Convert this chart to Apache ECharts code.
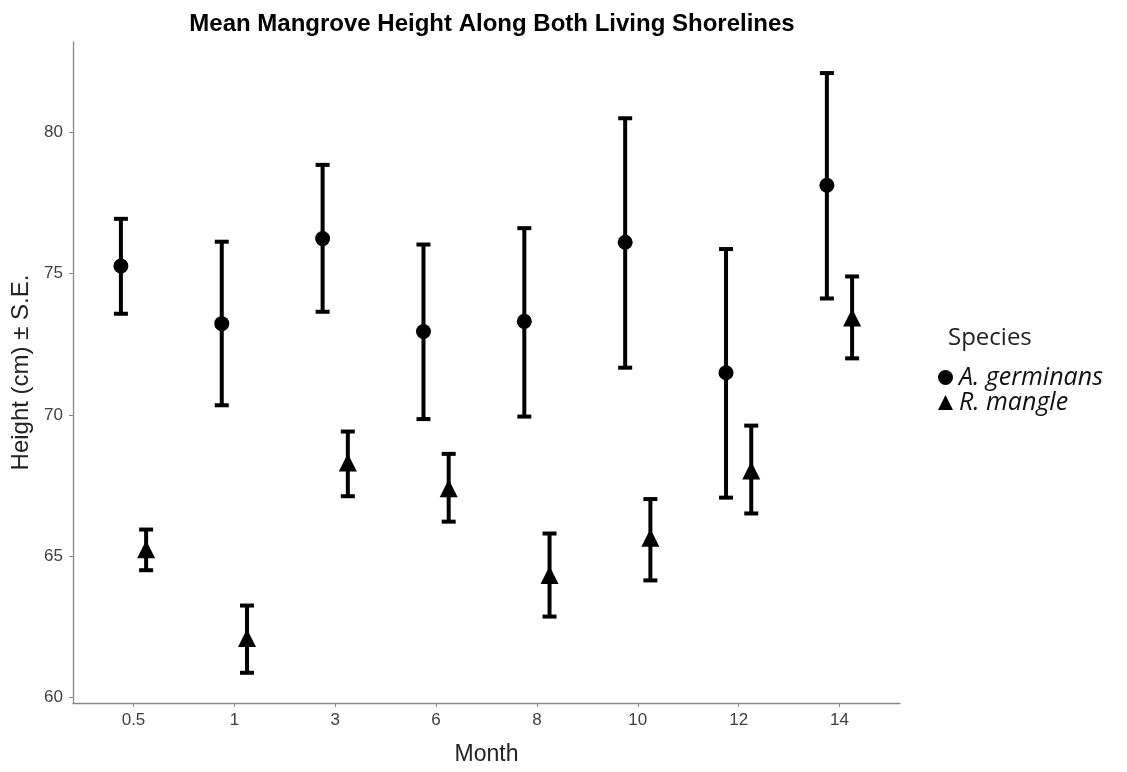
<!DOCTYPE html>
<html>
<head>
<meta charset="utf-8">
<script src="https://cdn.jsdelivr.net/npm/echarts@6/dist/echarts.min.js"></script>
<style>html,body{margin:0;padding:0;background:#fff}#c{width:1127px;height:772px}</style>
</head>
<body>
<div id="c"></div>
<script>
const months = ['0.5', '1', '3', '6', '8', '10', '12', '14'];
const aMean = [75.27, 73.23, 76.24, 72.95, 73.31, 76.11, 71.49, 78.13];
const aLow  = [73.58, 70.34, 73.65, 69.85, 69.94, 71.67, 67.07, 74.12];
const aHigh = [76.94, 76.13, 78.85, 76.03, 76.61, 80.50, 75.87, 82.10];
const rMean = [65.24, 62.10, 68.31, 67.40, 64.33, 65.65, 68.03, 73.45];
const rLow  = [64.50, 60.87, 67.12, 66.22, 62.86, 64.14, 66.51, 72.00];
const rHigh = [65.94, 63.25, 69.41, 68.62, 65.80, 67.02, 69.62, 74.90];
const yTicks = [60, 65, 70, 75, 80];
const dodge = 0.125;

const idx = months.map((m, i) => i);
const aPts = idx.map(i => [i - dodge, aMean[i]]);
const rPts = idx.map(i => [i + dodge, rMean[i]]);
const aBars = idx.map(i => [i - dodge, aLow[i], aHigh[i]]);
const rBars = idx.map(i => [i + dodge, rLow[i], rHigh[i]]);

function errRender(params, api) {
  const x = api.value(0);
  const lo = api.coord([x, api.value(1)]);
  const hi = api.coord([x, api.value(2)]);
  const hw = 7;
  const st = { stroke: '#000', lineWidth: 4 };
  return {
    type: 'group',
    children: [
      { type: 'line', shape: { x1: lo[0], y1: lo[1], x2: hi[0], y2: hi[1] }, style: st },
      { type: 'line', shape: { x1: lo[0] - hw, y1: lo[1], x2: lo[0] + hw, y2: lo[1] }, style: st },
      { type: 'line', shape: { x1: hi[0] - hw, y1: hi[1], x2: hi[0] + hw, y2: hi[1] }, style: st }
    ]
  };
}

const chart = echarts.init(document.getElementById('c'), null, { renderer: 'canvas' });
chart.setOption({
  animation: false,
  backgroundColor: '#fff',
  color: ['#000', '#000'],
  title: [
    { text: 'Mean Mangrove Height Along Both Living Shorelines', left: 487, top: 7, textAlign: 'center',
      textStyle: { fontFamily: 'Liberation Sans', fontWeight: 'bold', fontSize: 24, color: '#000' } },
    { text: 'Species', left: 943, top: 321,
      textStyle: { fontFamily: 'Open Sans', fontWeight: 'normal', fontSize: 24, color: '#222' } }
  ],
  legend: {
    orient: 'vertical', left: 933, top: 360, itemGap: 0, itemWidth: 15, itemHeight: 15,
    textStyle: { fontFamily: 'Open Sans', fontStyle: 'italic', fontSize: 25, lineHeight: 22, color: '#111', padding: [0, 0, 0, 1] },
    data: [
      { name: 'A. germinans', icon: 'circle', itemStyle: { color: '#000' } },
      { name: 'R. mangle', icon: 'triangle', itemStyle: { color: '#000' } }
    ]
  },
  grid: { left: 73, right: 227, top: 42, bottom: 69 },
  xAxis: {
    type: 'value', min: -0.6, max: 7.6,
    name: 'Month', nameLocation: 'middle', nameGap: 40,
    nameTextStyle: { fontFamily: 'Liberation Sans', fontSize: 23, color: '#222' },
    axisLine: { show: true, onZero: false, lineStyle: { color: '#888', width: 1.3 } },
    axisTick: { show: true, customValues: idx, length: 4, lineStyle: { color: '#888' } },
    axisLabel: { customValues: idx, formatter: v => months[Math.round(v)], fontFamily: 'Liberation Sans', fontSize: 17, color: '#404040', margin: 9 },
    splitLine: { show: false }
  },
  yAxis: {
    type: 'value', min: 59.8, max: 83.2,
    name: 'Height (cm) ± S.E.', nameLocation: 'middle', nameGap: 40, nameRotate: 90,
    nameTextStyle: { fontFamily: 'Liberation Sans', fontSize: 24, color: '#222' },
    axisLine: { show: true, onZero: false, lineStyle: { color: '#888', width: 1.3 } },
    axisTick: { show: true, customValues: yTicks, length: 4, lineStyle: { color: '#888' } },
    axisLabel: { customValues: yTicks, fontFamily: 'Liberation Sans', fontSize: 17, color: '#404040', margin: 10 },
    splitLine: { show: false }
  },
  series: [
    { name: 'A. germinans', type: 'custom', renderItem: errRender, data: aBars, encode: { x: 0, y: [1, 2] }, z: 2 },
    { name: 'R. mangle', type: 'custom', renderItem: errRender, data: rBars, encode: { x: 0, y: [1, 2] }, z: 2 },
    { name: 'A. germinans', type: 'scatter', data: aPts, symbol: 'circle', symbolSize: 15, itemStyle: { color: '#000', opacity: 1 }, z: 3 },
    { name: 'R. mangle', type: 'scatter', data: rPts, symbol: 'triangle', symbolSize: 18, itemStyle: { color: '#000', opacity: 1 }, z: 3 }
  ]
});
</script>
</body>
</html>
